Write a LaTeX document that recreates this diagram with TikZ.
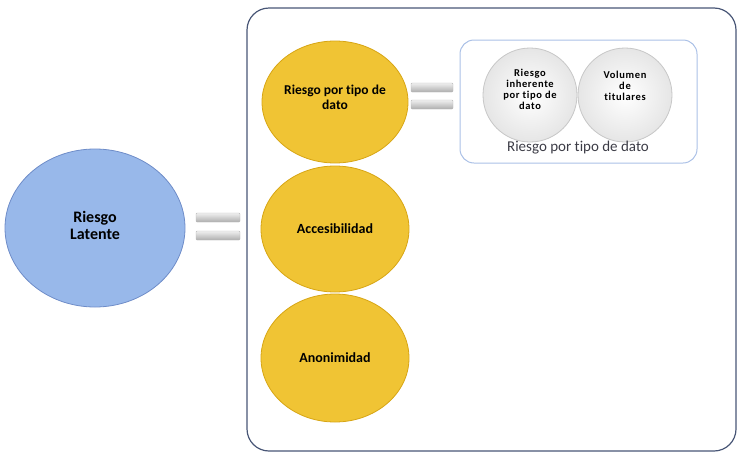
\documentclass[tikz,border=0pt]{standalone}
\usepackage{fontspec}
\setmainfont[Ligatures={NoCommon}]{Carlito}
\usetikzlibrary{shapes.geometric}
\definecolor{blueF}{RGB}{152,184,234}
\definecolor{blueD}{RGB}{110,140,200}
\definecolor{yelF}{RGB}{240,196,52}
\definecolor{yelD}{RGB}{215,165,20}
\definecolor{frameD}{RGB}{72,86,118}
\definecolor{frameL}{RGB}{170,192,230}
\definecolor{labelC}{RGB}{60,60,70}
\begin{document}
\begin{tikzpicture}[x=1pt,y=-1pt,
  bigtxt/.style={font=\fontsize{14}{15}\selectfont\bfseries, align=center, text=black},
  bluecirc/.style={ellipse, draw=blueD, line width=0.8pt, fill=blueF, inner sep=0pt},
  yelcirc/.style={ellipse, draw=yelD, line width=0.8pt, fill=yelF, inner sep=0pt},
  whitecirc/.style={circle, draw=black!22, line width=0.8pt, inner color=white, outer color=black!10, minimum size=94pt, inner sep=0pt},
  smalltxt/.style={align=center, font=\fontsize{10.5}{11}\selectfont\bfseries\addfontfeature{LetterSpace=6}, inner sep=0pt},
  bar/.style={draw=black!28, line width=0.4pt, top color=black!6, bottom color=black!32, rounded corners=1pt, minimum height=9pt, inner sep=0pt}
]
\useasboundingbox (0,0) rectangle (738,453);
% outer frame
\draw[frameD, line width=1.2pt, rounded corners=22pt] (247,8) rectangle (736,451);
% main circle
\node[bluecirc, minimum width=180pt, minimum height=158pt] (latente) at (95,228) {};
\node[bigtxt, font=\fontsize{16}{17}\selectfont\bfseries] (latenteT) at (95,225) {Riesgo\\Latente};
% equal sign 1
\node[bar, minimum width=44pt] (eq1a) at (218,217.5) {};
\node[bar, minimum width=44pt] (eq1b) at (218,235.5) {};
% yellow ellipses
\node[yelcirc, minimum width=146pt, minimum height=122pt] (tipo) at (335,102) {};
\node[bigtxt, font=\fontsize{13.5}{15}\selectfont\bfseries] (tipoT) at (335,97) {Riesgo por tipo de\\dato};
\node[yelcirc, minimum width=148pt, minimum height=126pt, bigtxt] (acc) at (335,229) {Accesibilidad};
\node[yelcirc, minimum width=148pt, minimum height=128pt, bigtxt] (anon) at (335,358) {Anonimidad};
% equal sign 2
\node[bar, minimum width=42pt] (eq2a) at (432,87.5) {};
\node[bar, minimum width=42pt] (eq2b) at (432,104.5) {};
% inner frame
\draw[frameL, line width=1pt, rounded corners=14pt] (460,40) rectangle (697,163);
\node[whitecirc] (inh) at (530,95) {};
\node[whitecirc] (vol) at (625,95) {};
\node[smalltxt] (inhT) at (530,89) {Riesgo\\inherente\\por tipo de\\dato};
\node[smalltxt] (volT) at (625,86) {Volumen\\de\\titulares};
\node[font=\fontsize{15}{16}\selectfont, text=labelC] (lab) at (578,148) {Riesgo por tipo de dato};
\end{tikzpicture}
\end{document}
